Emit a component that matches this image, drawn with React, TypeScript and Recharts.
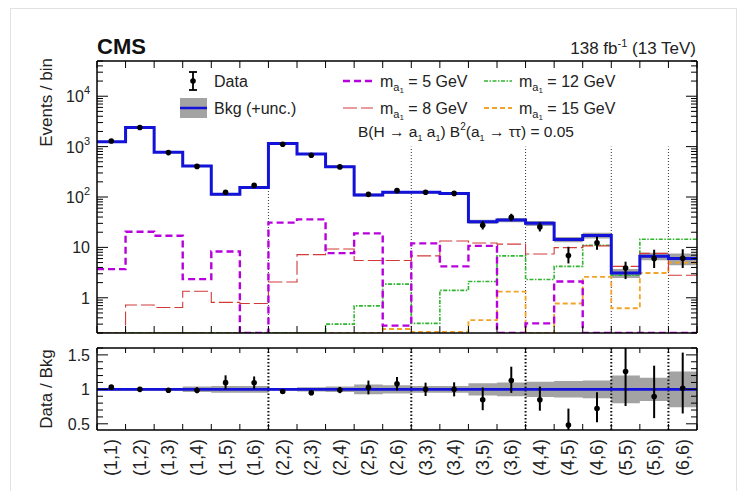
import { Area, ComposedChart, ErrorBar, Line, ReferenceLine, Scatter, XAxis, YAxis } from "recharts";

const binLabels = [
  "(1,1)", "(1,2)", "(1,3)", "(1,4)", "(1,5)", "(1,6)",
  "(2,2)", "(2,3)", "(2,4)", "(2,5)", "(2,6)",
  "(3,3)", "(3,4)", "(3,5)", "(3,6)",
  "(4,4)", "(4,5)", "(4,6)",
  "(5,5)", "(5,6)",
  "(6,6)",
];
const bkgYield = [1250, 2400, 770, 410, 113, 155, 1150, 710, 400, 110, 124, 124, 118, 32.4, 35, 30, 14.3, 17.2, 3.1, 6.7, 6.0];
const bkgUnc = [0.02, 0.02, 0.02, 0.04, 0.05, 0.05, 0.02, 0.03, 0.04, 0.07, 0.06, 0.05, 0.05, 0.09, 0.1, 0.11, 0.12, 0.13, 0.2, 0.17, 0.26];
const dataYield = [1290, 2400, 760, 405, 124, 170, 1115, 675, 396, 113, 134, 124, 118, 27.5, 39.5, 25.5, 6.9, 12.4, 3.9, 6.0, 6.1];
const dataErrUp = [30, 48, 25, 18, 12, 14, 30, 25, 18, 11, 12, 12, 12, 5.8, 7.0, 5.7, 3.4, 4.1, 1.3, 3.0, 3.1];
const dataErrDown = [30, 48, 25, 18, 11, 14, 30, 25, 18, 11, 12, 12, 12, 4.9, 6.3, 4.8, 2.1, 3.4, 1.55, 2.1, 2.2];

const sigM5 = [3.7, 20.5, 17, 2.35, 8.3, 0, 31, 36, 7.7, 19, 0.28, 12, 4.2, 10.7, 0, 0.31, 2.1, 0, 0, 0, 0];
const sigM8 = [0, 0.72, 0.64, 1.35, 0.81, 0.77, 2.05, 7.2, 9.3, 5.5, 5.5, 6.8, 13.4, 12.2, 11.6, 7.4, 9.9, 10.7, 4.2, 7.6, 2.8];
const sigM12 = [0, 0, 0, 0, 0, 0, 0, 0, 0.3, 0.69, 1.87, 0.31, 1.4, 2.1, 6.8, 2.3, 4.2, 11, 2.8, 14.5, 14.5];
const sigM15 = [0, 0, 0, 0, 0, 0, 0, 0, 0, 0, 0.24, 0.21, 0.21, 0.36, 1.33, 0, 0.77, 2.6, 0.62, 3.1, 5.0];

const groupEdges = [6, 11, 15, 18, 20];

const Y_MIN = 0.2;
const Y_MAX = 5e4;
const R_MIN = 0.41;
const R_MAX = 1.6;

const FONT = "'Liberation Sans', Arial, Helvetica, sans-serif";
const BLUE = "#1212d8";
const MAGENTA = "#b800dc";
const RED = "#d23a3a";
const GREEN = "#2fb52f";
const ORANGE = "#f2a42a";
const BAND = "#a3a3a3";

const nBins = binLabels.length;
const floorY = (v: number) => Math.max(v, Y_MIN);

// one row per bin edge, last row repeats the last bin so stepAfter closes the histogram
const stepRows = Array.from({ length: nBins + 1 }, (_, k) => {
  const i = Math.min(k, nBins - 1);
  return {
    x: k,
    bkg: bkgYield[i],
    band: [bkgYield[i] * (1 - bkgUnc[i]), bkgYield[i] * (1 + bkgUnc[i])],
    m5: floorY(sigM5[i]),
    m8: floorY(sigM8[i]),
    m12: floorY(sigM12[i]),
    m15: floorY(sigM15[i]),
    rband: [1 - bkgUnc[i], 1 + bkgUnc[i]],
    one: 1,
  };
});

const dataPoints = binLabels.map((_, i) => ({
  x: i + 0.5,
  y: dataYield[i],
  err: [dataErrDown[i], dataErrUp[i]],
}));

// error bars are cut at the frame of the ratio panel
const ratioPoints = binLabels.map((_, i) => {
  const r = dataYield[i] / bkgYield[i];
  return {
    x: i + 0.5,
    y: r,
    err: [Math.min(dataErrDown[i] / bkgYield[i], r - R_MIN), Math.min(dataErrUp[i] / bkgYield[i], R_MAX - r)],
  };
});

const edgeTicks = Array.from({ length: nBins + 1 }, (_, k) => k);
const centerTicks = binLabels.map((_, i) => i + 0.5);

const logMajor = [1, 10, 100, 1000, 10000];
const logTicks: number[] = [];
for (let e = -1; e <= 4; e++) {
  for (let m = 1; m <= 9; m++) {
    const v = m * Math.pow(10, e);
    if (v >= Y_MIN && v <= Y_MAX) logTicks.push(v);
  }
}
const ratioMajor = [0.5, 1, 1.5];
const ratioTicks = [0.5, 0.6, 0.7, 0.8, 0.9, 1, 1.1, 1.2, 1.3, 1.4, 1.5, 1.6];

const isLogMajor = (v: number) => logMajor.some((m) => Math.abs(m - v) < 1e-9);
const isRatioMajor = (v: number) => ratioMajor.some((m) => Math.abs(m - v) < 1e-9);

function logLabel(v: number) {
  if (v < 5) return "1";
  if (v < 50) return "10";
  const exp = Math.round(Math.log10(v));
  return (
    <>
      <tspan>10</tspan>
      <tspan dy={-8} fontSize={11}>{exp}</tspan>
    </>
  );
}

function makeTick(
  side: "left" | "right" | "top" | "bottom",
  isMajor: (v: number) => boolean,
  majorLen: number,
  minorLen: number,
  label?: (v: number) => any
) {
  return (props: any) => {
    const { x, y, payload } = props;
    const v = payload.value;
    const len = isMajor(v) ? majorLen : minorLen;
    let line;
    if (side === "left") line = <line x1={x} x2={x + len} y1={y} y2={y} stroke="#000" strokeWidth={1} />;
    else if (side === "right") line = <line x1={x} x2={x - len} y1={y} y2={y} stroke="#000" strokeWidth={1} />;
    else if (side === "top") line = <line x1={x} x2={x} y1={y} y2={y + len} stroke="#000" strokeWidth={1} />;
    else line = <line x1={x} x2={x} y1={y} y2={y - len} stroke="#000" strokeWidth={1} />;
    return (
      <g>
        {line}
        {label && isMajor(v) ? (
          <text x={x - 7} y={y + 6} textAnchor="end" fontSize={16} fontFamily={FONT} fill="#222">
            {label(v)}
          </text>
        ) : null}
      </g>
    );
  };
}

const BinLabelTick = (props: any) => {
  const { x, y, payload } = props;
  const i = Math.round(payload.value - 0.5);
  const ty = y + 8;
  return (
    <text
      x={x}
      y={ty}
      transform={`rotate(-90 ${x} ${ty})`}
      textAnchor="end"
      dominantBaseline="central"
      fontSize={18}
      fontFamily={FONT}
      fill="#222"
    >
      {binLabels[i]}
    </text>
  );
};

const DataDot = (p: any) => <circle cx={p.cx} cy={p.cy} r={2.8} fill="#000" />;

const axisLine = { stroke: "#000", strokeWidth: 1.5 };

function MainPanel() {
  return (
    <ComposedChart width={742} height={340} data={stepRows} margin={{ top: 60, right: 44, bottom: 6, left: 96 }}>
      <XAxis
        dataKey="x"
        type="number"
        domain={[0, nBins]}
        allowDataOverflow
        ticks={edgeTicks}
        interval={0}
        height={1}
        tickSize={0}
        tickMargin={0}
        tickLine={false}
        axisLine={axisLine}
        tick={makeTick("bottom", () => true, 7, 7)}
      />
      <XAxis
        xAxisId="top"
        orientation="top"
        dataKey="x"
        type="number"
        domain={[0, nBins]}
        allowDataOverflow
        ticks={edgeTicks}
        interval={0}
        height={1}
        tickSize={0}
        tickMargin={0}
        tickLine={false}
        axisLine={axisLine}
        tick={makeTick("top", () => true, 7, 7)}
      />
      <YAxis
        scale="log"
        type="number"
        domain={[Y_MIN, Y_MAX]}
        allowDataOverflow
        ticks={logTicks}
        interval={0}
        width={1}
        tickSize={0}
        tickMargin={0}
        tickLine={false}
        axisLine={axisLine}
        tick={makeTick("left", isLogMajor, 11, 6, logLabel)}
      />
      <YAxis
        yAxisId="right"
        orientation="right"
        scale="log"
        type="number"
        domain={[Y_MIN, Y_MAX]}
        allowDataOverflow
        ticks={logTicks}
        interval={0}
        width={1}
        tickSize={0}
        tickMargin={0}
        tickLine={false}
        axisLine={axisLine}
        tick={makeTick("right", isLogMajor, 11, 6)}
      />
      {groupEdges.map((e) => (
        <ReferenceLine
          key={e}
          segment={[{ x: e, y: Y_MIN }, { x: e, y: 1000 }]}
          stroke="#333"
          strokeWidth={1}
          strokeDasharray="1 2"
        />
      ))}
      <Area dataKey="band" type="stepAfter" fill={BAND} fillOpacity={1} stroke="none" isAnimationActive={false} />
      <Line dataKey="m15" type="stepAfter" stroke={ORANGE} strokeWidth={1.8} strokeDasharray="5 3" dot={false} activeDot={false} isAnimationActive={false} />
      <Line dataKey="m12" type="stepAfter" stroke={GREEN} strokeWidth={1.6} strokeDasharray="4 1.5 1.5 1.5" dot={false} activeDot={false} isAnimationActive={false} />
      <Line dataKey="m8" type="stepAfter" stroke={RED} strokeWidth={1.1} strokeDasharray="14 4" dot={false} activeDot={false} isAnimationActive={false} />
      <Line dataKey="m5" type="stepAfter" stroke={MAGENTA} strokeWidth={2.4} strokeDasharray="7 4" dot={false} activeDot={false} isAnimationActive={false} />
      <Line dataKey="bkg" type="stepAfter" stroke={BLUE} strokeWidth={3} dot={false} activeDot={false} isAnimationActive={false} />
      <Scatter data={dataPoints} dataKey="y" shape={DataDot} isAnimationActive={false}>
        <ErrorBar dataKey="err" direction="y" width={0} stroke="#000" strokeWidth={2} isAnimationActive={false} />
      </Scatter>
    </ComposedChart>
  );
}

function RatioPanel() {
  return (
    <ComposedChart width={742} height={151} data={stepRows} margin={{ top: 7, right: 44, bottom: 59, left: 96 }}>
      <XAxis
        dataKey="x"
        type="number"
        domain={[0, nBins]}
        allowDataOverflow
        ticks={edgeTicks}
        interval={0}
        height={1}
        tickSize={0}
        tickMargin={0}
        tickLine={false}
        axisLine={axisLine}
        tick={makeTick("bottom", () => true, 6, 6)}
      />
      <XAxis
        xAxisId="labels"
        dataKey="x"
        type="number"
        domain={[0, nBins]}
        allowDataOverflow
        ticks={centerTicks}
        interval={0}
        height={1}
        tickSize={0}
        tickMargin={0}
        tickLine={false}
        axisLine={false}
        tick={BinLabelTick}
      />
      <XAxis
        xAxisId="top"
        orientation="top"
        dataKey="x"
        type="number"
        domain={[0, nBins]}
        allowDataOverflow
        ticks={edgeTicks}
        interval={0}
        height={1}
        tickSize={0}
        tickMargin={0}
        tickLine={false}
        axisLine={axisLine}
        tick={makeTick("top", () => true, 5, 5)}
      />
      <YAxis
        type="number"
        domain={[R_MIN, R_MAX]}
        allowDataOverflow
        ticks={ratioTicks}
        interval={0}
        width={1}
        tickSize={0}
        tickMargin={0}
        tickLine={false}
        axisLine={axisLine}
        tick={makeTick("left", isRatioMajor, 11, 6, (v) => String(v))}
      />
      <YAxis
        yAxisId="right"
        orientation="right"
        type="number"
        domain={[R_MIN, R_MAX]}
        allowDataOverflow
        ticks={ratioTicks}
        interval={0}
        width={1}
        tickSize={0}
        tickMargin={0}
        tickLine={false}
        axisLine={axisLine}
        tick={makeTick("right", isRatioMajor, 11, 6)}
      />
      <Area dataKey="rband" type="stepAfter" fill={BAND} fillOpacity={1} stroke="none" isAnimationActive={false} />
      {groupEdges.map((e) => (
        <ReferenceLine key={e} x={e} stroke="#111" strokeWidth={2} strokeDasharray="1.5 2" />
      ))}
      <Line dataKey="one" type="stepAfter" stroke={BLUE} strokeWidth={2.6} dot={false} activeDot={false} isAnimationActive={false} />
      <Scatter data={ratioPoints} dataKey="y" shape={DataDot} isAnimationActive={false}>
        <ErrorBar dataKey="err" direction="y" width={0} stroke="#000" strokeWidth={2} isAnimationActive={false} />
      </Scatter>
    </ComposedChart>
  );
}

function MassLabel({ x, y, text }: { x: number; y: number; text: string }) {
  return (
    <text x={x} y={y} fontSize={16} fontFamily={FONT} fill="#222">
      <tspan>m</tspan>
      <tspan dy={4} fontSize={11}>a</tspan>
      <tspan dy={2} fontSize={8}>1</tspan>
      <tspan dy={-6}>{" = " + text}</tspan>
    </text>
  );
}

function Overlay() {
  return (
    <svg width={742} height={491} style={{ position: "absolute", left: 0, top: 0, pointerEvents: "none" }}>
      <rect x={10.5} y={8.5} width={726} height={484} fill="none" stroke="#e2e2e2" />
      <text x={97} y={54} fontSize={22} fontWeight="bold" fontFamily={FONT} fill="#111">CMS</text>
      <text x={696} y={54} textAnchor="end" fontSize={17} fontFamily={FONT} fill="#222">
        <tspan>138 fb</tspan>
        <tspan dy={-7} fontSize={11}>-1</tspan>
        <tspan dy={7}> (13 TeV)</tspan>
      </text>
      <text
        x={52}
        y={58}
        transform="rotate(-90 52 58)"
        textAnchor="end"
        fontSize={17}
        fontFamily={FONT}
        fill="#222"
      >
        Events / bin
      </text>
      <text
        x={52}
        y={389}
        transform="rotate(-90 52 389)"
        textAnchor="middle"
        fontSize={17}
        fontFamily={FONT}
        fill="#222"
      >
        Data / Bkg
      </text>

      {/* legend, left column */}
      <line x1={193} x2={193} y1={72} y2={90} stroke="#000" strokeWidth={1.8} />
      <line x1={189} x2={197} y1={72} y2={72} stroke="#000" strokeWidth={1.8} />
      <line x1={189} x2={197} y1={90} y2={90} stroke="#000" strokeWidth={1.8} />
      <circle cx={193} cy={81} r={2.8} fill="#000" />
      <text x={214} y={87} fontSize={16} fontFamily={FONT} fill="#222">Data</text>
      <rect x={180} y={98} width={27} height={20} fill={BAND} />
      <line x1={180} x2={207} y1={108} y2={108} stroke={BLUE} strokeWidth={2.5} />
      <text x={214} y={114} fontSize={16} fontFamily={FONT} fill="#222">Bkg (+unc.)</text>

      {/* legend, signal columns */}
      <line x1={343} x2={373} y1={81} y2={81} stroke={MAGENTA} strokeWidth={2.4} strokeDasharray="7 4" />
      <MassLabel x={380} y={87} text="5 GeV" />
      <line x1={343} x2={373} y1={108} y2={108} stroke={RED} strokeWidth={1.1} strokeDasharray="14 4" />
      <MassLabel x={380} y={114} text="8 GeV" />
      <line x1={484} x2={512} y1={81} y2={81} stroke={GREEN} strokeWidth={1.6} strokeDasharray="4 1.5 1.5 1.5" />
      <MassLabel x={519} y={87} text="12 GeV" />
      <line x1={484} x2={512} y1={108} y2={108} stroke={ORANGE} strokeWidth={1.8} strokeDasharray="5 3" />
      <MassLabel x={519} y={114} text="15 GeV" />

      <text x={358} y={137} fontSize={15.5} fontFamily={FONT} fill="#222">
        <tspan>B(H → a</tspan>
        <tspan dy={4} fontSize={9}>1</tspan>
        <tspan dy={-4}> a</tspan>
        <tspan dy={4} fontSize={9}>1</tspan>
        <tspan dy={-4}>) B</tspan>
        <tspan dy={-7} fontSize={10}>2</tspan>
        <tspan dy={7}>(a</tspan>
        <tspan dy={4} fontSize={9}>1</tspan>
        <tspan dy={-4}> → ττ) = 0.05</tspan>
      </text>
    </svg>
  );
}

export default function App() {
  return (
    <div style={{ position: "absolute", left: 0, top: 0, width: 742, height: 491, background: "#fff", fontFamily: FONT }}>
      <div style={{ position: "absolute", left: 0, top: 0 }}>
        <MainPanel />
      </div>
      <div style={{ position: "absolute", left: 0, top: 340 }}>
        <RatioPanel />
      </div>
      <Overlay />
    </div>
  );
}
